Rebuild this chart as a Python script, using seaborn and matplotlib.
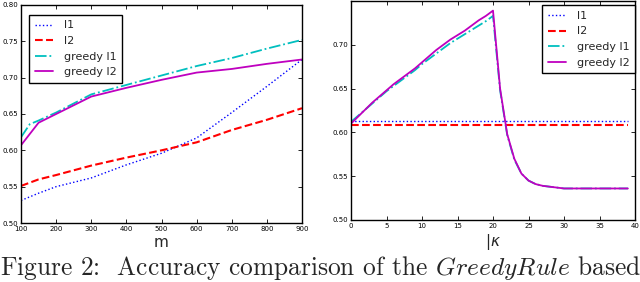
import matplotlib
matplotlib.use("Agg")
import matplotlib.pyplot as plt
import seaborn as sns
import pandas as pd

# ---------------- data ----------------
m_vals = [100, 150, 200, 300, 400, 500, 600, 700, 800, 900]
m_vals_greedy_l1 = [100, 125, 150, 200, 300, 400, 500, 600, 700, 800, 900]
l1_m = [0.531, 0.541, 0.550, 0.562, 0.580, 0.596, 0.617, 0.652, 0.688, 0.725]
l2_m = [0.551, 0.560, 0.566, 0.579, 0.590, 0.600, 0.611, 0.628, 0.642, 0.658]
greedy_l1_m = [0.618, 0.636, 0.641, 0.652, 0.677, 0.690, 0.703, 0.716, 0.727, 0.740, 0.752]
greedy_l2_m = [0.607, 0.638, 0.650, 0.674, 0.686, 0.697, 0.707, 0.712, 0.719, 0.725]

kappa = [0, 1, 2, 3, 4, 5, 6, 7, 8, 9, 10, 11, 12, 13, 14, 15, 16, 17, 18, 19,
         20, 21, 22, 23, 24, 25, 26, 27, 28, 29, 30, 31, 32, 33, 34, 35, 36, 37, 38, 39]
l1_k = [0.613, 0.613, 0.613, 0.613, 0.613, 0.613, 0.613, 0.613, 0.613, 0.613,
        0.613, 0.613, 0.613, 0.613, 0.613, 0.613, 0.613, 0.613, 0.613, 0.613,
        0.613, 0.613, 0.613, 0.613, 0.613, 0.613, 0.613, 0.613, 0.613, 0.613,
        0.613, 0.613, 0.613, 0.613, 0.613, 0.613, 0.613, 0.613, 0.613, 0.613]
l2_k = [0.609, 0.609, 0.609, 0.609, 0.609, 0.609, 0.609, 0.609, 0.609, 0.609,
        0.609, 0.609, 0.609, 0.609, 0.609, 0.609, 0.609, 0.609, 0.609, 0.609,
        0.609, 0.609, 0.609, 0.609, 0.609, 0.609, 0.609, 0.609, 0.609, 0.609,
        0.609, 0.609, 0.609, 0.609, 0.609, 0.609, 0.609, 0.609, 0.609, 0.609]
greedy_l1_k = [0.612, 0.619, 0.626, 0.633, 0.640, 0.647, 0.653, 0.659, 0.665, 0.671,
               0.678, 0.684, 0.690, 0.696, 0.702, 0.707, 0.712, 0.717, 0.722, 0.727,
               0.733, 0.648, 0.597, 0.569, 0.553, 0.545, 0.541, 0.539, 0.538, 0.537,
               0.536, 0.536, 0.536, 0.536, 0.536, 0.536, 0.536, 0.536, 0.536, 0.536]
greedy_l2_k = [0.610, 0.618, 0.626, 0.634, 0.641, 0.648, 0.655, 0.661, 0.667, 0.673,
               0.680, 0.687, 0.694, 0.700, 0.706, 0.711, 0.716, 0.722, 0.728, 0.733,
               0.739, 0.650, 0.598, 0.570, 0.553, 0.545, 0.541, 0.539, 0.538, 0.537,
               0.536, 0.536, 0.536, 0.536, 0.536, 0.536, 0.536, 0.536, 0.536, 0.536]

series_names = ["l1", "l2", "greedy l1", "greedy l2"]
m_ticks = [100, 200, 300, 400, 500, 600, 700, 800, 900]
m_yticks = [0.50, 0.55, 0.60, 0.65, 0.70, 0.75, 0.80]
k_ticks = [0, 5, 10, 15, 20, 25, 30, 35, 40]
k_yticks = [0.50, 0.55, 0.60, 0.65, 0.70]

# ---------------- style ----------------
sns.set_style("ticks")
plt.rcParams.update({
    "xtick.direction": "in", "ytick.direction": "in",
    "xtick.top": True, "ytick.right": True,
    "xtick.major.size": 3, "ytick.major.size": 3,
    "xtick.major.width": 0.6, "ytick.major.width": 0.6,
    "axes.edgecolor": "black", "axes.linewidth": 1.0,
    "mathtext.fontset": "dejavusans",
})
plt.rcParams["font.family"] = ["DejaVu Sans"]

styles = {
    "l1": dict(color=(0, 0, 1), linestyle=":", linewidth=1.0),
    "l2": dict(color=(1, 0, 0), linestyle="--", linewidth=1.5),
    "greedy l1": dict(color=(0, 0.75, 0.75), linestyle="-.", linewidth=1.3),
    "greedy l2": dict(color=(0.75, 0, 0.75), linestyle="-", linewidth=1.3),
}

fig = plt.figure(figsize=(6.4, 2.82), dpi=100)
ax1 = fig.add_axes([21 / 640, 1 - 223 / 282, (302 - 21) / 640, (223 - 5) / 282])
ax2 = fig.add_axes([351 / 640, 1 - 220 / 282, (635 - 351) / 640, (220 - 1) / 282])

left_data = {
    "l1": (m_vals, l1_m),
    "l2": (m_vals, l2_m),
    "greedy l1": (m_vals_greedy_l1, greedy_l1_m),
    "greedy l2": (m_vals, greedy_l2_m),
}
right_data = {
    "l1": (kappa, l1_k),
    "l2": (kappa, l2_k),
    "greedy l1": (kappa, greedy_l1_k),
    "greedy l2": (kappa, greedy_l2_k),
}

for name in series_names:
    x, y = left_data[name]
    df = pd.DataFrame({"x": x, "y": y})
    sns.lineplot(data=df, x="x", y="y", ax=ax1, label=name, **styles[name])
    x, y = right_data[name]
    df = pd.DataFrame({"x": x, "y": y})
    sns.lineplot(data=df, x="x", y="y", ax=ax2, label=name, **styles[name])

ax1.set_xlim(100, 900)
ax1.set_ylim(0.50, 0.80)
ax1.set_xticks(m_ticks)
ax1.set_yticks(m_yticks)
ax1.set_yticklabels([f"{v:.2f}" for v in m_yticks])
ax1.set_xlabel("m", fontsize=11, labelpad=2)
ax1.set_ylabel("")

ax2.set_xlim(0, 40)
ax2.set_ylim(0.50, 0.75)
ax2.set_xticks(k_ticks)
ax2.set_yticks(k_yticks)
ax2.set_yticklabels([f"{v:.2f}" for v in k_yticks])
ax2.set_xlabel(r"$|\kappa$", fontsize=11, labelpad=2)
ax2.set_ylabel("")

for ax in (ax1, ax2):
    ax.tick_params(labelsize=5, pad=2, colors="black")
    for s in ax.spines.values():
        s.set_visible(True)
        s.set_color("black")

leg1 = ax1.legend(loc="upper left", bbox_to_anchor=(0.01, 0.98), fontsize=8,
                  handlelength=1.6, handletextpad=1.0, borderpad=0.5,
                  labelspacing=0.5, fancybox=False, framealpha=1,
                  edgecolor="black")
leg1.get_frame().set_linewidth(1.0)
leg2 = ax2.legend(loc="upper right", bbox_to_anchor=(1.0, 0.98), fontsize=8,
                  handlelength=1.6, handletextpad=1.0, borderpad=0.5,
                  labelspacing=0.5, fancybox=False, framealpha=1,
                  edgecolor="black", borderaxespad=0.0)
leg2.get_frame().set_linewidth(1.0)

fig.text(0.0, 7 / 282, r"Figure 2:  Accuracy comparison of the $\mathit{GreedyRule}$ based",
         family="cmr10", fontsize=18.3, math_fontfamily="cm", ha="left", va="baseline")

fig.savefig("out.png", dpi=100)
